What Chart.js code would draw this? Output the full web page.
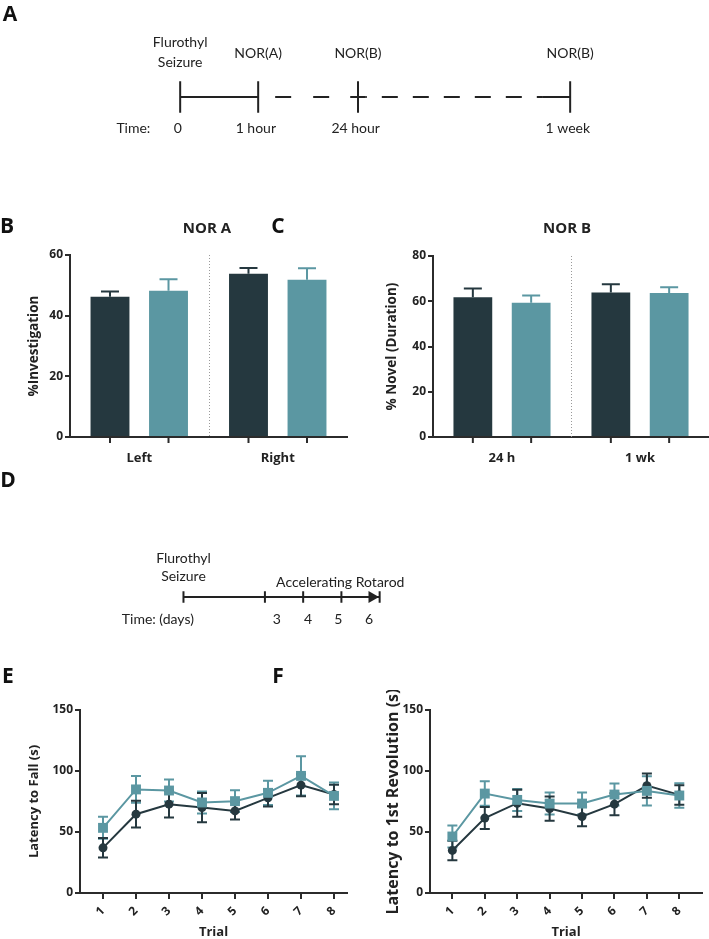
<!DOCTYPE html>
<html>
<head>
<meta charset="utf-8">
<script src="https://cdn.jsdelivr.net/npm/chart.js@4.4.0/dist/chart.umd.min.js"></script>
<style>
  body { margin: 0; background: #fff; width: 709px; height: 939px; overflow: hidden; position: relative; font-family: "Open Sans", sans-serif; }
  .box { position: absolute; }
  .txt { position: absolute; transform: translate(-50%, -50%); font-weight: 700; line-height: 1; color: #111; white-space: nowrap; }
  .letter { font-size: 21px; }
  .ttl { font-size: 15px; color: #222; }
</style>
</head>
<body>
<div class="box" style="left:0;top:22px"><canvas id="tlA" width="709" height="150"></canvas></div>
<div class="box" style="left:0;top:215px"><canvas id="barB" width="355" height="255"></canvas></div>
<div class="box" style="left:355px;top:215px"><canvas id="barC" width="354" height="255"></canvas></div>
<div class="box" style="left:0;top:522px"><canvas id="tlD" width="709" height="150"></canvas></div>
<div class="box" style="left:0;top:690px"><canvas id="lineE" width="355" height="249"></canvas></div>
<div class="box" style="left:355px;top:690px"><canvas id="lineF" width="354" height="249"></canvas></div>

<div class="txt letter" style="left:10px;top:13px">A</div>
<div class="txt letter" style="left:7px;top:225px">B</div>
<div class="txt letter" style="left:278px;top:225px">C</div>
<div class="txt letter" style="left:8px;top:479px">D</div>
<div class="txt letter" style="left:8px;top:675px">E</div>
<div class="txt letter" style="left:278px;top:675px">F</div>
<div class="txt ttl" style="left:207px;top:227px">NOR A</div>
<div class="txt ttl" style="left:567px;top:227px">NOR B</div>

<script>
// NOR A (panel B)
const norACats = ['Left', 'Right']
const norADark = [46.2, 53.8]
const norADarkErr = [1.8, 1.9]
const norATeal = [48.2, 51.8]
const norATealErr = [3.8, 3.8]

// NOR B (panel C)
const norBCats = ['24 h', '1 wk']
const norBDark = [61.8, 63.9]
const norBDarkErr = [3.8, 3.6]
const norBTeal = [59.3, 63.7]
const norBTealErr = [3.2, 2.5]

// rotarod (panels E, F)
const trials = [1, 2, 3, 4, 5, 6, 7, 8]
const fallDark = [37, 64.6, 72.8, 70, 67.3, 78, 88.4, 80.8]
const fallDarkErr = [8, 11, 11, 12, 7, 7, 9, 8]
const fallTeal = [53.4, 84.9, 84, 74.2, 75.3, 82.1, 96, 79.6]
const fallTealErr = [9, 11, 9, 9, 9, 10, 16, 11]
const revDark = [34.9, 61.4, 73.6, 69.2, 62.7, 72.8, 88, 80.4]
const revDarkErr = [8, 9, 11, 10, 8, 9, 10, 8]
const revTeal = [46.3, 81.5, 76.3, 73.3, 73.3, 80.7, 83.7, 79.9]
const revTealErr = [9, 10, 9, 9, 9, 9, 12, 10]

// timelines (schematic units)
const timeA = [0, 1, 2.28, 5]
const timeATop = [['Flurothyl', 'Seizure'], ['NOR(A)'], ['NOR(B)'], ['NOR(B)']]
const timeABottom = ['0', '1 hour', '24 hour', '1 week']
const timeD = [0, 2.13, 3.13, 4.13, 5.13]
const dayLabels = ['3', '4', '5', '6']
const dayLabelPos = [2.44, 3.26, 4.05, 4.85]

const AX = '#2b2b2b'
const DARK = '#25383f'
const TEAL = '#5b97a2'
const TXT = '#222'
Chart.defaults.font.family = '"Open Sans", sans-serif'
Chart.defaults.animation = false

const boldFont = size => ({ family: '"Open Sans", sans-serif', weight: 'bold', size: size })

// error bars from ds.errors
const errPlugin = {
  id: 'errbars',
  draw(chart, opts) {
    const ctx = chart.ctx
    const ys = chart.scales.y
    chart.data.datasets.forEach((ds, i) => {
      if (!ds.errors) return
      const meta = chart.getDatasetMeta(i)
      ctx.save()
      ctx.strokeStyle = ds.errColor
      ctx.lineWidth = 2
      meta.data.forEach((el, j) => {
        const v = typeof ds.data[j] === 'object' ? ds.data[j].y : ds.data[j]
        const e = ds.errors[j]
        const top = ys.getPixelForValue(v + e)
        const bot = opts.both ? ys.getPixelForValue(v - e) : el.y
        const c = opts.cap / 2
        ctx.beginPath()
        ctx.moveTo(el.x, bot); ctx.lineTo(el.x, top)
        ctx.moveTo(el.x - c, top); ctx.lineTo(el.x + c, top)
        if (opts.both) { ctx.moveTo(el.x - c, bot); ctx.lineTo(el.x + c, bot) }
        ctx.stroke()
      })
      ctx.restore()
    })
  },
  beforeDatasetsDraw(chart, args, opts) { if (opts.under) this.draw(chart, opts) },
  afterDatasetsDraw(chart, args, opts) { if (!opts.under) this.draw(chart, opts) }
}

// dotted divider + tick marks under each bar
const barAxisPlugin = {
  id: 'barAxis',
  afterDraw(chart) {
    const { ctx, chartArea } = chart
    const xs = chart.scales.x
    ctx.save()
    ctx.strokeStyle = '#9a9a9a'
    ctx.lineWidth = 1
    ctx.setLineDash([1, 2])
    const mid = Math.round(xs.getPixelForValue(0.5)) + 0.5
    ctx.beginPath(); ctx.moveTo(mid, chartArea.top); ctx.lineTo(mid, chartArea.bottom); ctx.stroke()
    ctx.setLineDash([])
    ctx.strokeStyle = AX
    ctx.lineWidth = 2
    chart.data.datasets.forEach((ds, i) => {
      chart.getDatasetMeta(i).data.forEach(el => {
        ctx.beginPath(); ctx.moveTo(el.x, chartArea.bottom); ctx.lineTo(el.x, chartArea.bottom + 6); ctx.stroke()
      })
    })
    ctx.restore()
  }
}

// text labels placed on the timeline scale
const textPlugin = {
  id: 'texts',
  afterDraw(chart, args, opts) {
    const ctx = chart.ctx
    const xs = chart.scales.x, ys = chart.scales.y
    ctx.save()
    ctx.fillStyle = TXT
    ctx.font = '14px Lato'
    ctx.textAlign = 'center'
    ctx.textBaseline = 'middle'
    opts.items.forEach(it => ctx.fillText(it.text, xs.getPixelForValue(it.x), ys.getPixelForValue(0) + it.dy))
    ctx.restore()
  }
}

const seg = (a, b) => [{ x: a, y: 0 }, { x: b, y: 0 }]
const tickData = (pos, h) => pos.flatMap(p => [{ x: p, y: -h }, { x: p, y: h }, { x: p, y: null }])
const lineDs = (data, extra) => Object.assign({ data: data, borderColor: TXT, borderWidth: 2, pointRadius: 0, spanGaps: false }, extra || {})

function timeline(id, datasets, xmin, xmax, items) {
  return new Chart(document.getElementById(id), {
    type: 'line',
    data: { datasets: datasets },
    options: {
      responsive: false,
      layout: { padding: 0 },
      plugins: { legend: { display: false }, tooltip: { enabled: false }, texts: { items: items } },
      scales: {
        x: { type: 'linear', display: false, min: xmin, max: xmax },
        y: { display: false, min: -1, max: 1 }
      }
    },
    plugins: [textPlugin]
  })
}

// panel A timeline
const itemsA = [{ text: 'Time:', x: -0.6, dy: 31 }]
timeA.forEach((t, i) => {
  const lines = timeATop[i]
  lines.forEach((s, k) => itemsA.push({ text: s, x: t, dy: lines.length > 1 ? -55 + k * 20 : -44 }))
  itemsA.push({ text: timeABottom[i], x: t - 0.03, dy: 31 })
})
timeline('tlA', [
  lineDs(seg(timeA[0], timeA[1])),
  lineDs(seg(timeA[1], timeA[2] - 0.2), { borderDash: [16, 22], borderDashOffset: 21 }),
  lineDs(seg(timeA[2] - 0.1, timeA[2] + 0.1)),
  lineDs(seg(timeA[2] + 0.1, timeA[3] - 0.36), { borderDash: [16, 15], borderDashOffset: 15 }),
  lineDs(seg(timeA[3] - 0.36, timeA[3])),
  lineDs(tickData(timeA, 0.21))
], -2.31, 6.78, itemsA)

// panel D timeline
const itemsD = [
  { text: 'Flurothyl', x: timeD[0], dy: -39 },
  { text: 'Seizure', x: timeD[0], dy: -21 },
  { text: 'Accelerating Rotarod', x: 4.1, dy: -15 },
  { text: 'Time: (days)', x: -0.67, dy: 22 }
]
dayLabels.forEach((d, i) => itemsD.push({ text: d, x: dayLabelPos[i], dy: 22 }))
timeline('tlD', [
  lineDs(seg(timeD[0], timeD[timeD.length - 1])),
  lineDs(tickData(timeD, 0.085)),
  lineDs([{ x: timeD[timeD.length - 1] - 0.2, y: 0 }], { pointRadius: 7, pointStyle: 'triangle', rotation: 90, pointBackgroundColor: TXT, pointBorderWidth: 0 })
], -4.615, 13.56, itemsD)

function barChart(id, cats, dark, darkErr, teal, tealErr, yMax, yTitle, yWidth, titlePad, padTop, padRight) {
  return new Chart(document.getElementById(id), {
    type: 'bar',
    data: {
      labels: cats,
      datasets: [
        { data: dark, errors: darkErr, backgroundColor: DARK, errColor: DARK },
        { data: teal, errors: tealErr, backgroundColor: TEAL, errColor: TEAL }
      ]
    },
    options: {
      responsive: false,
      categoryPercentage: 0.845,
      barPercentage: 0.665,
      layout: { padding: { top: padTop, right: padRight, left: 0, bottom: 0 } },
      plugins: { legend: { display: false }, tooltip: { enabled: false }, errbars: { cap: 18, both: false, under: false } },
      scales: {
        x: {
          grid: { display: true, drawOnChartArea: false, drawTicks: true, tickLength: 5, color: 'rgba(0,0,0,0)' },
          border: { display: true, width: 2, color: AX },
          ticks: { color: TXT, font: boldFont(13), padding: 8 },
          afterFit(s) { s.height = 33 }
        },
        y: {
          min: 0, max: yMax,
          ticks: { stepSize: 20, color: TXT, font: boldFont(12), padding: 2 },
          grid: { drawOnChartArea: false, tickLength: 5, color: AX, lineWidth: 2 },
          border: { display: true, width: 2, color: AX },
          title: { display: true, text: yTitle, color: TXT, font: boldFont(13.5), padding: { top: titlePad, bottom: 0 } },
          afterFit(s) { s.width = yWidth }
        }
      }
    },
    plugins: [errPlugin, barAxisPlugin]
  })
}

barChart('barB', norACats, norADark, norADarkErr, norATeal, norATealErr, 60, '%Investigation', 70, 26.5, 40, 8)
barChart('barC', norBCats, norBDark, norBDarkErr, norBTeal, norBTealErr, 80, '% Novel (Duration)', 78, 29.5, 41, 0)

function lineChart(id, dark, darkErr, teal, tealErr, yTitle, titleSize, yWidth, titlePad, padRight, xmin, xmax) {
  const pts = vals => trials.map((t, i) => ({ x: t, y: vals[i] }))
  return new Chart(document.getElementById(id), {
    type: 'line',
    data: {
      datasets: [
        { data: pts(teal), errors: tealErr, errColor: TEAL, borderColor: TEAL, borderWidth: 2, pointStyle: 'rect', pointRadius: 7, pointBackgroundColor: TEAL, pointBorderWidth: 0, tension: 0 },
        { data: pts(dark), errors: darkErr, errColor: DARK, borderColor: DARK, borderWidth: 2, pointStyle: 'circle', pointRadius: 4.5, pointBackgroundColor: DARK, pointBorderWidth: 0, tension: 0 }
      ]
    },
    options: {
      responsive: false,
      layout: { padding: { top: 20, right: padRight, left: 0, bottom: 0 } },
      plugins: { legend: { display: false }, tooltip: { enabled: false }, errbars: { cap: 10, both: true, under: true } },
      scales: {
        x: {
          type: 'linear', min: xmin, max: xmax,
          afterBuildTicks(s) { s.ticks = trials.map(t => ({ value: t })) },
          ticks: { color: TXT, font: boldFont(12), padding: 5, minRotation: 45, maxRotation: 45, autoSkip: false },
          grid: { drawOnChartArea: false, tickLength: 6, color: AX, lineWidth: 2 },
          border: { display: true, width: 2, color: AX },
          title: { display: true, text: 'Trial', color: TXT, font: Object.assign(boldFont(13), { lineHeight: 1 }), padding: { top: 0, bottom: 0 } },
          afterFit(s) { s.height = 46 }
        },
        y: {
          min: 0, max: 150,
          ticks: { stepSize: 50, color: TXT, font: boldFont(12), padding: 2 },
          grid: { drawOnChartArea: false, tickLength: 5, color: AX, lineWidth: 2 },
          border: { display: true, width: 2, color: AX },
          title: { display: true, text: yTitle, color: TXT, font: boldFont(titleSize), padding: { top: titlePad, bottom: 0 } },
          afterFit(s) { s.width = yWidth }
        }
      }
    },
    plugins: [errPlugin]
  })
}

lineChart('lineE', fallDark, fallDarkErr, fallTeal, fallTealErr, 'Latency to Fall (s)', 13, 80, 26.6, 8, 0.303, 8.394)
lineChart('lineF', revDark, revDarkErr, revTeal, revTealErr, 'Latency to 1st Revolution (s)', 16, 75, 28.4, 3, 0.31, 8.70)
</script>
</body>
</html>
